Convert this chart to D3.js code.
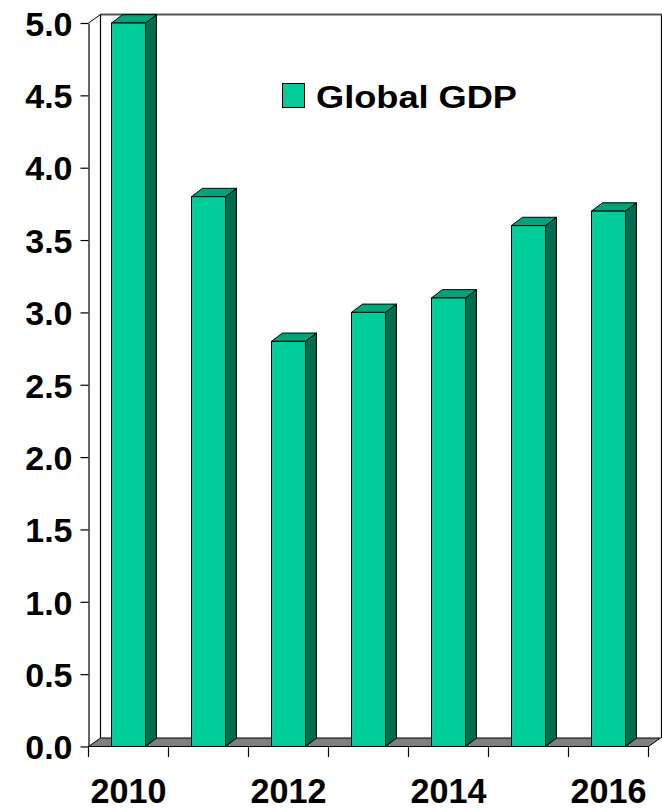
<!DOCTYPE html>
<html>
<head>
<meta charset="utf-8">
<script src="https://cdn.jsdelivr.net/npm/d3@7"></script>
<style>
  html, body { margin: 0; padding: 0; background: #fff; }
  svg { display: block; }
  text { font-family: "Liberation Sans", Arial, sans-serif; font-weight: bold; fill: #000; }
</style>
</head>
<body>
<svg id="chart" width="662" height="811"></svg>
<script>
// Global GDP growth by year (%)
const years = ["2010", "2011", "2012", "2013", "2014", "2015", "2016"];
const gdp = [5.0, 3.8, 2.8, 3.0, 3.1, 3.6, 3.7];
const yTicks = [0, 0.5, 1.0, 1.5, 2.0, 2.5, 3.0, 3.5, 4.0, 4.5, 5.0];
const xLabels = ["2010", "2012", "2014", "2016"];
const seriesName = "Global GDP";

const svg = d3.select("#chart");

// plot frame (front plane) and 3D depth offset
const plotLeft = 88.5, plotRight = 648.5, plotBottom = 746.5, plotTop = 23;
const depthX = 12, depthY = -8.5;      // floor / wall depth
const barDX = 11, barDY = -8.3;        // bar depth
const barW = 34;

const x = d3.scaleBand().domain(years).range([plotLeft, plotRight]).padding(0);
const y = d3.scaleLinear().domain([0, 5]).range([plotBottom, plotTop]);

const colFront = "#00cc99", colSide = "#006b4f", colTop = "#00a37a";

// back walls
const wall = svg.append("g").attr("fill", "none");
wall.append("path")
  .attr("d", `M${plotLeft + depthX},${plotBottom + depthY} V${plotTop + depthY} H661.5 V${plotBottom + depthY}`)
  .attr("stroke", "#000").attr("stroke-width", 1.2);
wall.append("line")
  .attr("x1", plotLeft + depthX).attr("y1", plotTop + depthY)
  .attr("x2", 661.5).attr("y2", plotTop + depthY)
  .attr("stroke", "#555").attr("stroke-width", 2);

// floor
svg.append("path")
  .attr("d", `M${plotLeft},${plotBottom} L${plotRight},${plotBottom} L${plotRight + depthX},${plotBottom + depthY} L${plotLeft + depthX},${plotBottom + depthY} Z`)
  .attr("fill", "#808080").attr("stroke", "#000").attr("stroke-width", 1);

// diagonal linking y axis top to back wall
svg.append("line")
  .attr("x1", plotLeft).attr("y1", plotTop)
  .attr("x2", plotLeft + depthX).attr("y2", plotTop + depthY)
  .attr("stroke", "#000").attr("stroke-width", 1);

// bars
const bars = svg.append("g").selectAll("g").data(years.map((yr, i) => ({ yr, v: gdp[i] })))
  .join("g");

bars.each(function (d) {
  const g = d3.select(this);
  const x0 = x(d.yr) + (x.bandwidth() - barW) / 2;
  const x1 = x0 + barW;
  const yt = y(d.v);
  const yb = y(0);
  // side face
  g.append("path")
    .attr("d", `M${x1},${yb} L${x1},${yt} L${x1 + barDX},${yt + barDY} L${x1 + barDX},${yb + barDY} Z`)
    .attr("fill", colSide).attr("stroke", "#000").attr("stroke-width", 1).attr("stroke-linejoin", "round");
  // top face
  g.append("path")
    .attr("d", `M${x0},${yt} L${x1},${yt} L${x1 + barDX},${yt + barDY} L${x0 + barDX},${yt + barDY} Z`)
    .attr("fill", colTop).attr("stroke", "#000").attr("stroke-width", 1).attr("stroke-linejoin", "round");
  // front face
  g.append("rect")
    .attr("x", x0).attr("y", yt)
    .attr("width", barW).attr("height", yb - yt)
    .attr("fill", colFront).attr("stroke", "#000").attr("stroke-width", 1);
});

// y axis
const yAxis = svg.append("g")
  .attr("transform", `translate(${plotLeft},0)`)
  .call(d3.axisLeft(y).tickValues(yTicks).tickFormat(d3.format(".1f")).tickSize(8).tickSizeOuter(0));
yAxis.select(".domain").attr("stroke", "#000").attr("stroke-width", 1.2);
yAxis.selectAll(".tick line").attr("stroke", "#000").attr("stroke-width", 1.2);
yAxis.selectAll(".tick text")
  .attr("x", -16).attr("dy", "0.36em")
  .style("font-family", "'Liberation Sans', Arial, sans-serif")
  .style("font-weight", "bold")
  .style("font-size", "34px")
  .attr("fill", "#000");

// x axis: ticks at category boundaries
const bounds = years.map(yr => x(yr)).concat([x(years[years.length - 1]) + x.bandwidth()]);
const xAxis = svg.append("g");
xAxis.append("line")
  .attr("x1", plotLeft).attr("x2", plotRight).attr("y1", plotBottom).attr("y2", plotBottom)
  .attr("stroke", "#000").attr("stroke-width", 1.2);
xAxis.selectAll("line.tick").data(bounds).join("line")
  .attr("class", "tick")
  .attr("x1", d => d).attr("x2", d => d)
  .attr("y1", plotBottom).attr("y2", plotBottom + 10.5)
  .attr("stroke", "#000").attr("stroke-width", 1.2);
xAxis.selectAll("text").data(xLabels).join("text")
  .attr("x", d => x(d) + x.bandwidth() / 2 - 38)
  .attr("y", 803)
  .attr("textLength", 76)
  .attr("lengthAdjust", "spacingAndGlyphs")
  .style("font-size", "35px")
  .text(d => d);

// legend
const legend = svg.append("g");
legend.append("rect")
  .attr("x", 282.5).attr("y", 83.5).attr("width", 22).attr("height", 24)
  .attr("fill", colFront).attr("stroke", "#000").attr("stroke-width", 1);
legend.append("text")
  .attr("x", 316).attr("y", 108)
  .attr("textLength", 201)
  .attr("lengthAdjust", "spacingAndGlyphs")
  .style("font-size", "32px")
  .text(seriesName);
</script>
</body>
</html>
